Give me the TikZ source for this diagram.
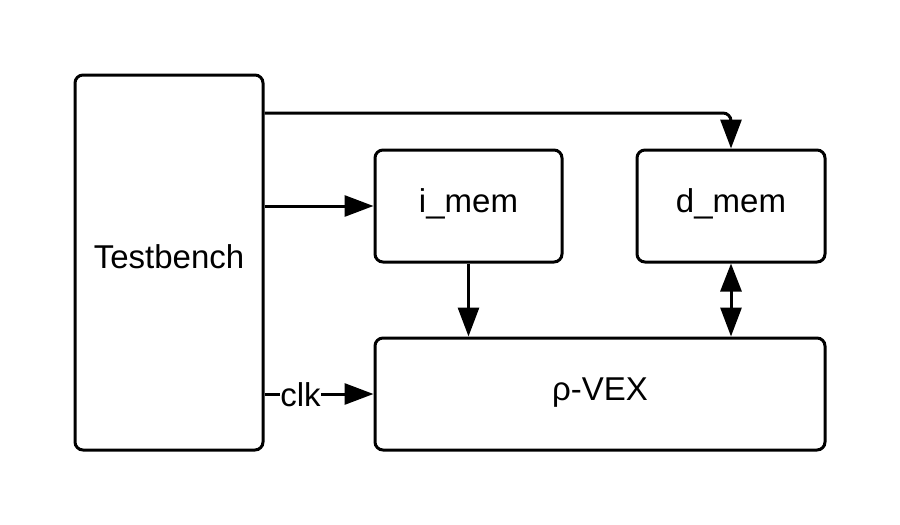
\documentclass[tikz,border=0pt]{standalone}
\usepackage{fontspec}
\setmainfont{Liberation Sans}
\usetikzlibrary{arrows.meta}
\begin{document}
\begin{tikzpicture}[x=1pt,y=-1pt,
  txt/.style={font=\fontsize{33}{38}\selectfont},
  box/.style={draw,line width=3pt,rounded corners=8pt,inner sep=0pt,txt,text height=24pt,text depth=12pt},
  conn/.style={line width=3pt},
  arr/.style={conn,-{Triangle[length=29pt,width=21pt]}},
  darr/.style={conn,{Triangle[length=28pt,width=21pt]}-{Triangle[length=29pt,width=21pt]}}]
\useasboundingbox (0,0) rectangle (900,525);
\node[box,minimum width=188pt,minimum height=375pt] (tb) at (169,262.5) {Testbench};
\node[box,minimum width=187pt,minimum height=112pt] (imem) at (468.5,206) {i\_mem};
\node[box,minimum width=188pt,minimum height=112pt] (dmem) at (731,206) {d\_mem};
\node[box,minimum width=450pt,minimum height=112pt] (vex) at (600,394) {ρ-VEX};
\coordinate (topy) at (0,113);
\node[inner sep=0pt,txt,text height=24pt,text depth=0pt] (clk) at (300.5,394) {clk};
\draw[arr,rounded corners=8pt] (tb.east|-topy) -- (dmem.north|-topy) -- (dmem.north);
\draw[arr] (tb.east|-imem.west) -- (imem.west);
\draw[arr] (imem.south) -- (imem.south|-vex.north);
\draw[darr] (dmem.south) -- (dmem.south|-vex.north);
\draw[conn] (tb.east|-vex.west) -- (clk.west);
\draw[arr] (clk.east|-vex.west) -- (vex.west);
\end{tikzpicture}
\end{document}
